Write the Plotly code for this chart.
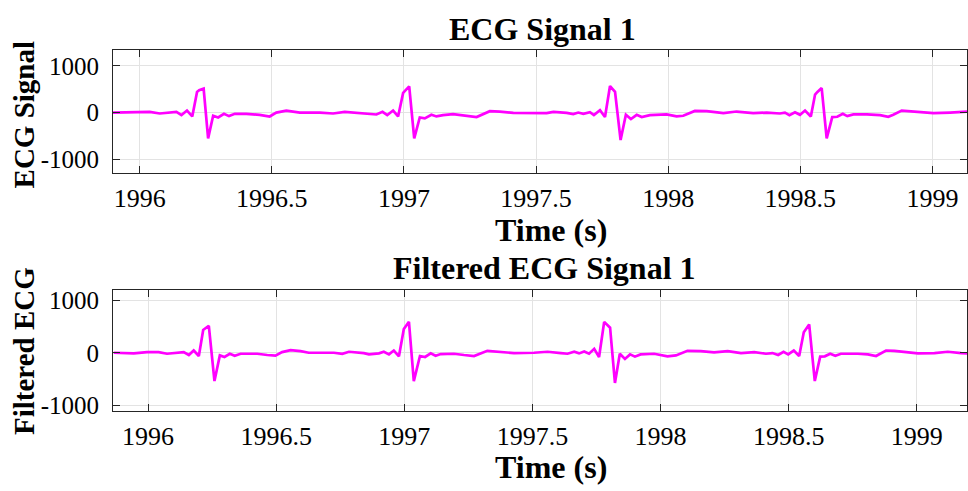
import plotly.graph_objects as go

# Raw ECG trace (seconds, amplitude)
raw_t = [1995.899, 1996.038, 1996.076, 1996.120, 1996.139, 1996.158, 1996.179, 1996.199,
         1996.217, 1996.225, 1996.242, 1996.259, 1996.278, 1996.297, 1996.319, 1996.338,
         1996.360, 1996.404, 1996.454, 1996.492, 1996.517, 1996.555, 1996.606, 1996.682,
         1996.732, 1996.776, 1996.820, 1996.858, 1996.896, 1996.919, 1996.937, 1996.959,
         1996.978, 1996.997, 1997.020, 1997.039, 1997.060, 1997.079, 1997.104, 1997.123,
         1997.148, 1997.186, 1997.224, 1997.275, 1997.325, 1997.363, 1997.414, 1997.477,
         1997.540, 1997.566, 1997.616, 1997.641, 1997.660, 1997.679, 1997.704, 1997.719,
         1997.742, 1997.761, 1997.780, 1997.799, 1997.820, 1997.840, 1997.859, 1997.881,
         1997.900, 1997.931, 1997.994, 1998.032, 1998.057, 1998.101, 1998.146, 1998.209,
         1998.259, 1998.322, 1998.373, 1998.423, 1998.442, 1998.459, 1998.480, 1998.499,
         1998.518, 1998.540, 1998.556, 1998.565, 1998.581, 1998.600, 1998.621, 1998.640,
         1998.661, 1998.678, 1998.701, 1998.752, 1998.802, 1998.833, 1998.852, 1998.884,
         1998.928, 1999.004, 1999.067, 1999.135]
raw_v = [0, 15, -20, -6, 15, -55, 43, -84,
         443, 478, 513, -554, -69, -105, -27, -76,
         -27, -27, -48, -84, 0, 43, 0, 0,
         -20, 15, 0, -27, -41, 15, -55, 43,
         -84, 422, 562, -554, -105, -125, -48, -83,
         -55, -34, -55, -97, 29, 22, -6, -6,
         -13, 15, -6, -34, 0, -27, 8, -55,
         50, -97, 569, 443, -590, -48, -139, -48,
         -97, -55, -41, -83, -69, 36, 29, -13,
         22, -13, 0, -20, 0, -55, 8, -48,
         43, -84, 386, 443, 527, -554, -97, -90,
         -27, -76, -41, -41, -55, -90, -48, 43,
         22, -13, 0, 22]

# Filtered ECG trace (seconds, amplitude)
filt_t = [1995.866, 1995.944, 1995.996, 1996.041, 1996.074, 1996.126, 1996.139, 1996.159,
          1996.178, 1996.198, 1996.215, 1996.237, 1996.259, 1996.280, 1996.298, 1996.319,
          1996.338, 1996.361, 1996.426, 1996.465, 1996.497, 1996.523, 1996.556, 1996.595,
          1996.627, 1996.673, 1996.725, 1996.758, 1996.784, 1996.842, 1996.862, 1996.901,
          1996.920, 1996.940, 1996.959, 1996.979, 1996.998, 1997.018, 1997.037, 1997.061,
          1997.081, 1997.103, 1997.122, 1997.142, 1997.194, 1997.233, 1997.272, 1997.324,
          1997.376, 1997.428, 1997.506, 1997.559, 1997.611, 1997.637, 1997.663, 1997.682,
          1997.702, 1997.721, 1997.741, 1997.760, 1997.780, 1997.803, 1997.822, 1997.841,
          1997.861, 1997.881, 1997.900, 1997.922, 1997.975, 1998.027, 1998.060, 1998.105,
          1998.157, 1998.209, 1998.262, 1998.314, 1998.366, 1998.411, 1998.437, 1998.459,
          1998.480, 1998.498, 1998.520, 1998.541, 1998.559, 1998.580, 1998.602, 1998.623,
          1998.641, 1998.662, 1998.682, 1998.704, 1998.770, 1998.809, 1998.841, 1998.880,
          1998.913, 1998.965, 1999.004, 1999.069, 1999.121, 1999.173, 1999.200]
filt_v = [0, -12, 12, 12, -19, 0, 12, -43,
          43, -62, 434, 515, -540, -50, -81, -19,
          -56, -19, -19, -43, -56, 12, 50, 31,
          0, 0, 0, -19, 19, -6, -31, -12,
          19, -31, 43, -68, 453, 590, -540, -62,
          -81, -12, -56, -25, -19, -43, -62, 37,
          19, -6, 0, 19, -6, -19, 19, -12,
          25, -19, 74, -81, 590, 478, -577, -19,
          -118, -31, -74, -31, -19, -68, -50, 37,
          31, 6, 31, -6, 12, -19, -6, -43,
          19, -31, 43, -62, 391, 540, -540, -74,
          -68, -19, -56, -19, -19, -31, -62, 43,
          37, 12, -12, -6, 19, -6, -12]

x_ticks = [1996, 1996.5, 1997, 1997.5, 1998, 1998.5, 1999]
x_tick_text = ["1996", "1996.5", "1997", "1997.5", "1998", "1998.5", "1999"]
y_ticks = [-1000, 0, 1000]
y_tick_text = ["-1000", "0", "1000"]

W, H = 968, 491
FONT = "Times New Roman, Liberation Serif, Tinos, serif"
LINE = "#ff00ff"
AX = "#262626"
GRID = "#e3e3e3"

fig = go.Figure()
fig.add_trace(go.Scatter(x=raw_t, y=raw_v, mode="lines", line=dict(color=LINE, width=2.7),
                         xaxis="x", yaxis="y", showlegend=False))
fig.add_trace(go.Scatter(x=filt_t, y=filt_v, mode="lines", line=dict(color=LINE, width=2.7),
                         xaxis="x2", yaxis="y2", showlegend=False))

def xax(rng, anchor):
    return dict(domain=[113 / W, 967 / W], range=rng, anchor=anchor,
                tickvals=x_ticks, ticktext=x_tick_text,
                tickfont=dict(family=FONT, size=26, color="#000"),
                ticks="inside", ticklen=7, tickcolor=AX, tickwidth=1,
                showline=True, linecolor=AX, linewidth=1, mirror="ticks",
                showgrid=True, gridcolor=GRID, gridwidth=1, zeroline=False,
                ticklabelstandoff=2)

def yax(rng, dom, anchor):
    return dict(domain=dom, range=rng, anchor=anchor,
                tickvals=y_ticks, ticktext=y_tick_text,
                tickfont=dict(family=FONT, size=25, color="#000"),
                ticks="inside", ticklen=7, tickcolor=AX, tickwidth=1,
                showline=True, linecolor=AX, linewidth=1, mirror="ticks",
                showgrid=True, gridcolor=GRID, gridwidth=1, zeroline=False,
                ticklabelstandoff=8)

top_dom = [1 - 174 / H, 1 - 48 / H]
bot_dom = [1 - 417 / H, 1 - 294 / H]

fig.update_layout(
    width=W, height=H,
    margin=dict(l=0, r=0, t=0, b=0),
    paper_bgcolor="white", plot_bgcolor="white",
    xaxis=xax([1995.899, 1999.131], "y"),
    yaxis=yax([-1300, 1345], top_dom, "x"),
    xaxis2=xax([1995.863, 1999.196], "y2"),
    yaxis2=yax([-1105, 1190], bot_dom, "x2"),
)

def label(text, x, y, size, angle=0):
    fig.add_annotation(text=f"<b>{text}</b>", x=x / W, y=1 - y / H, xref="paper", yref="paper",
                       showarrow=False, textangle=angle, xanchor="center", yanchor="middle",
                       font=dict(family=FONT, size=size, color="#000"))

label("ECG Signal 1", 542, 27, 32)
label("Filtered ECG Signal 1", 544, 271, 32)
label("Time (s)", 551, 232, 32)
label("Time (s)", 551, 475, 32)
label("ECG Signal", 24, 115, 29, -90)
label("Filtered ECG", 24, 356, 29, -90)

fig.write_html("out.html")
